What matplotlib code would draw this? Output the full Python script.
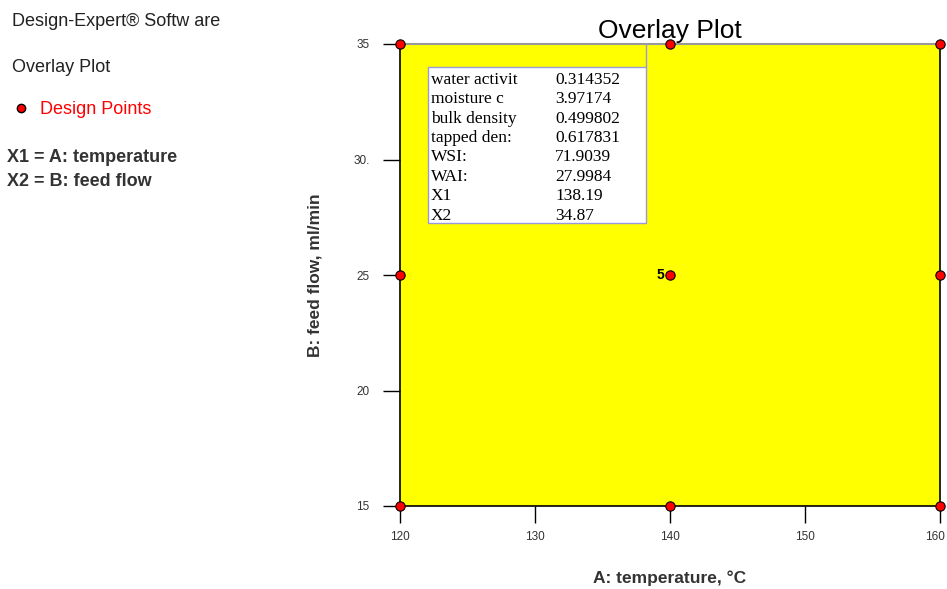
import matplotlib.pyplot as plt
from matplotlib.patches import Rectangle
from matplotlib.transforms import ScaledTranslation

plt.rcParams['font.family'] = ['Liberation Sans', 'DejaVu Sans']

# design points (A: temperature, B: feed flow)
temp_pts = [120, 140, 160, 120, 140, 160, 120, 140, 160]
flow_pts = [15, 15, 15, 25, 25, 25, 35, 35, 35]
center_reps = 5

x_ticks = [120, 130, 140, 150, 160]
y_ticks = [15, 20, 25, 30, 35]
y_tick_labels = ['15', '20', '25', '30.', '35']

# flag box contents
flag_names = ['water activit', 'moisture c', 'bulk density', 'tapped den:',
              'WSI:', 'WAI:', 'X1', 'X2']
flag_vals = ['0.314352', '3.97174', '0.499802', '0.617831',
             '71.9039', '27.9984', '138.19', '34.87']
flag_x, flag_y = 138.19, 34.87

fig = plt.figure(figsize=(9.47, 5.89), dpi=100)
ax = fig.add_axes([400/947, 1-506/589, 540/947, 462/589])
ax.set_facecolor('#ffff00')
ax.set_xlim(120, 160)
ax.set_ylim(15, 35)

for s in ['left', 'bottom', 'right']:
    ax.spines[s].set_color('black')
    ax.spines[s].set_linewidth(1.2)
ax.spines['top'].set_color('#999999')
ax.spines['top'].set_linewidth(1.5)

ax.set_xticks(x_ticks)
ax.set_yticks(y_ticks)
ax.set_yticklabels(y_tick_labels)
ax.tick_params(direction='out', length=12, width=1, labelsize=8.5, pad=6,
               colors='black', labelcolor='#333333')
ax.tick_params(axis='y', pad=10)
# last x label sits a bit left so it stays inside the figure
last = ax.get_xticklabels()[-1]
last.set_transform(last.get_transform() + ScaledTranslation(-5/100, 0, fig.dpi_scale_trans))

ax.scatter(temp_pts, flow_pts, s=45, c='red', edgecolors='black',
           linewidths=0.8, zorder=5, clip_on=False)
ax.text(139.6, 25, str(center_reps), ha='right', va='center',
        fontsize=10, fontweight='bold', zorder=6)

# flag pole and box
box_l, box_r, box_b, box_t = 122.07, 138.2, 27.25, 34.0
ax.plot([box_r, box_r], [box_t, 35], color='#9999dd', lw=1, zorder=3)
box = Rectangle((box_l, box_b), box_r - box_l, box_t - box_b,
                facecolor='white', edgecolor='#9999dd', lw=1, zorder=4)
ax.add_patch(box)
val_x = 131.5
name_clip = Rectangle((box_l, box_b), val_x - box_l, box_t - box_b,
                      transform=ax.transData, visible=False)
val_clip = Rectangle((box_l, box_b), box_r - box_l, box_t - box_b,
                     transform=ax.transData, visible=False)
ax.add_patch(name_clip)
ax.add_patch(val_clip)
line_h = 0.84
for i, (n, v) in enumerate(zip(flag_names, flag_vals)):
    yy = 33.45 - i * line_h
    t1 = ax.text(122.3, yy, n, fontsize=12.5, family='Liberation Serif',
                 va='center', ha='left', zorder=6)
    t1.set_clip_path(name_clip)
    t2 = ax.text(val_x, yy, v, fontsize=12.5, family='Liberation Serif',
                 va='center', ha='left', zorder=6)
    t2.set_clip_path(val_clip)

ax.set_title('Overlay Plot', fontsize=19, pad=4)
ax.set_xlabel('A: temperature, \u00b0C', fontsize=12.5, fontweight='bold',
              color='#333333', labelpad=20)
ax.set_ylabel('B: feed flow, ml/min', fontsize=12.5, fontweight='bold',
              color='#333333', labelpad=22)

fig.text(12/947, 1-22/589, 'Design-Expert\u00ae Softw are', fontsize=13,
         va='center', color='#222222')
fig.text(12/947, 1-67/589, 'Overlay Plot', fontsize=13, va='center',
         color='#222222')
fig.add_artist(plt.Line2D([21/947], [1-108/589], marker='o', color='red',
                          markeredgecolor='black', markersize=6,
                          transform=fig.transFigure))
fig.text(40/947, 1-109/589, 'Design Points', fontsize=13, va='center',
         color='red')
fig.text(7/947, 1-158/589, 'X1 = A: temperature', fontsize=13,
         fontweight='bold', va='center', color='#333333')
fig.text(7/947, 1-181/589, 'X2 = B: feed flow', fontsize=13,
         fontweight='bold', va='center', color='#333333')

fig.savefig('out.png', dpi=100)
